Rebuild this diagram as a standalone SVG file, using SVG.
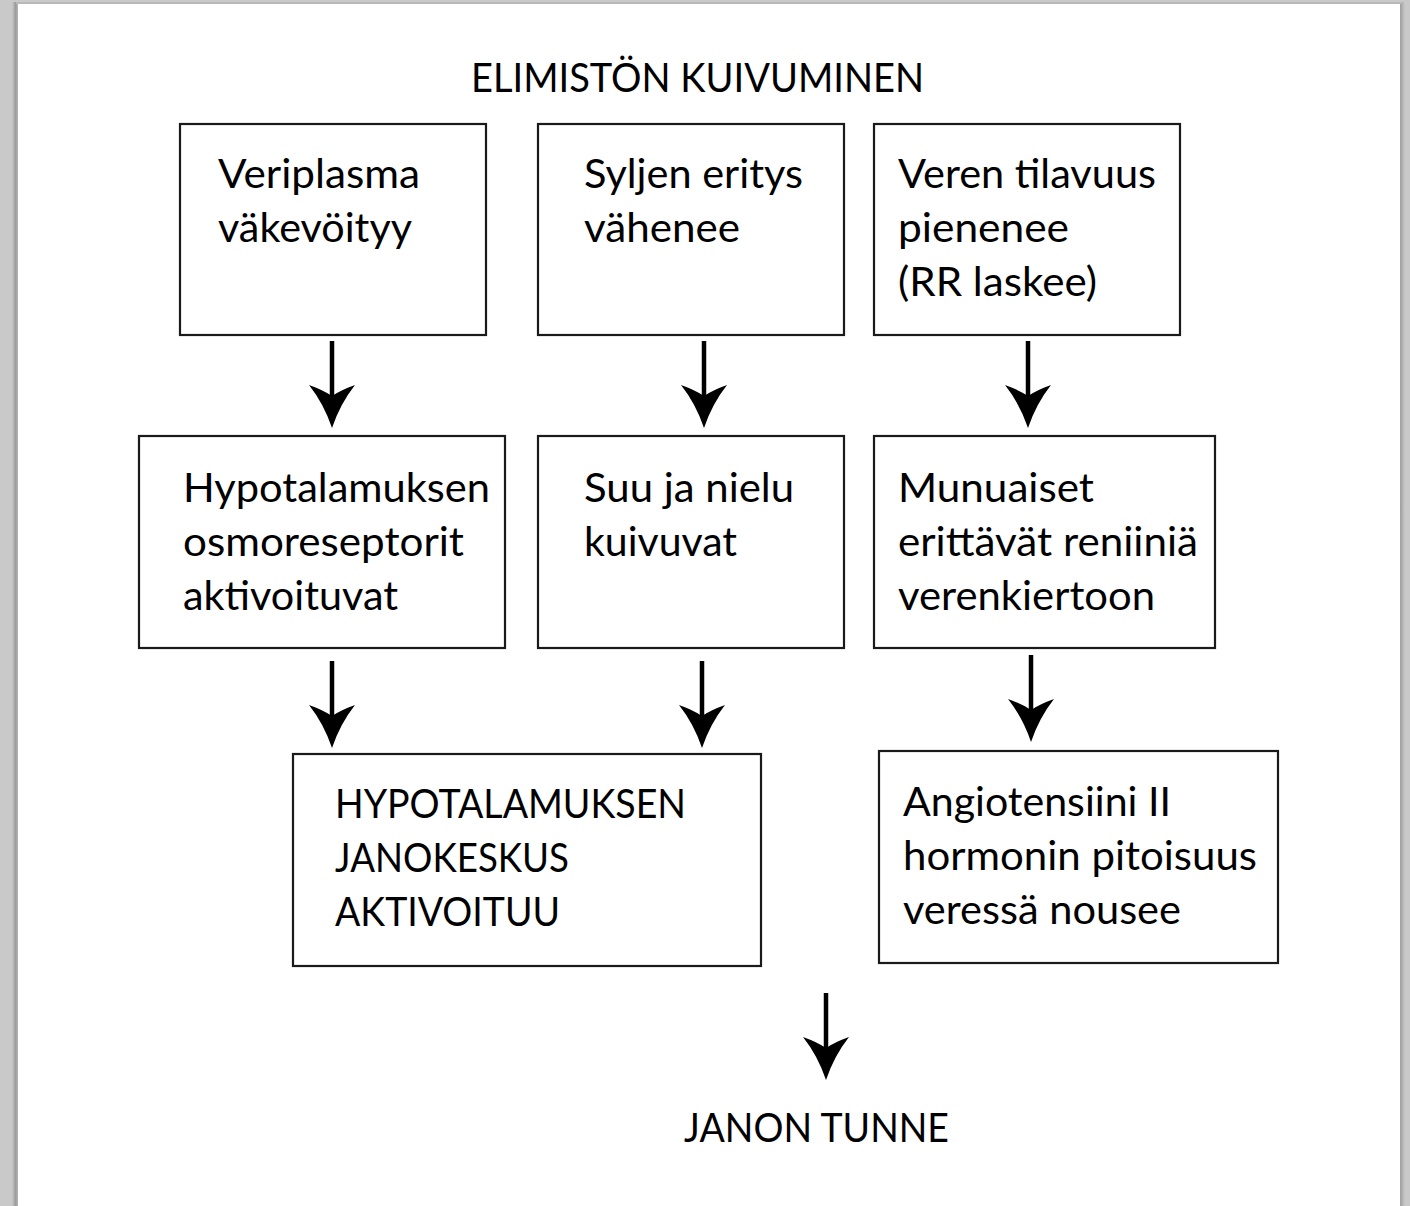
<svg xmlns="http://www.w3.org/2000/svg" xmlns:xlink="http://www.w3.org/1999/xlink" width="1410" height="1206" viewBox="0 0 1410 1206">
<style>
.box{fill:#fff;stroke:#1a1a1a;stroke-width:2.2}
.t{font-family:Lato,"Open Sans","Liberation Sans",sans-serif;font-size:40px;fill:#000}
.shaft{stroke:#000;stroke-width:4.5;fill:none}
.head{fill:#000}
</style>
<defs>
<linearGradient id="ls" x1="0" x2="1" y1="0" y2="0">
<stop offset="0" stop-color="#c8c9c8"/><stop offset="0.6" stop-color="#9a9b9a"/><stop offset="1" stop-color="#b5b6b5"/>
</linearGradient>
<linearGradient id="rs" x1="0" x2="1" y1="0" y2="0">
<stop offset="0" stop-color="#9c9d9c"/><stop offset="1" stop-color="#c8c9c8"/>
</linearGradient>
<g id="arrow">
<line class="shaft" x1="0" y1="0" x2="0" y2="60"/>
<path class="head" d="M0,87 Q-8,63 -23,44 Q-9,49 0,55 Q9,49 23,44 Q8,63 0,87 Z"/>
</g>
</defs>
<g id="page">
<rect x="0" y="0" width="1410" height="1206" fill="#c8c9c8"/>
<rect x="12" y="2" width="6" height="1204" fill="url(#ls)"/>
<rect x="1400" y="2" width="5" height="1204" fill="url(#rs)"/>
<rect x="16" y="2" width="1386" height="2" fill="#b8b9b8"/>
<rect x="18" y="4" width="1382" height="1202" fill="#fff"/>
</g>
<text id="title" class="t" x="471" y="92" textLength="453" lengthAdjust="spacingAndGlyphs">ELIMISTÖN KUIVUMINEN</text>
<g id="n1">
<rect class="box" x="180" y="124" width="306" height="211"/>
<text class="t" x="218" y="188" textLength="202" lengthAdjust="spacingAndGlyphs">Veriplasma</text>
<text class="t" x="218" y="242" textLength="194" lengthAdjust="spacingAndGlyphs">väkevöityy</text>
</g>
<g id="n2">
<rect class="box" x="538" y="124" width="306" height="211"/>
<text class="t" x="584" y="188" textLength="219" lengthAdjust="spacingAndGlyphs">Syljen eritys</text>
<text class="t" x="584" y="242" textLength="156" lengthAdjust="spacingAndGlyphs">vähenee</text>
</g>
<g id="n3">
<rect class="box" x="874" y="124" width="306" height="211"/>
<text class="t" x="898" y="188" textLength="258" lengthAdjust="spacingAndGlyphs">Veren tilavuus</text>
<text class="t" x="898" y="242" textLength="171" lengthAdjust="spacingAndGlyphs">pienenee</text>
<text class="t" x="898" y="296" textLength="199" lengthAdjust="spacingAndGlyphs">(RR laskee)</text>
</g>
<g id="n4">
<rect class="box" x="139" y="436" width="366" height="212"/>
<text class="t" x="183" y="502" textLength="307" lengthAdjust="spacingAndGlyphs">Hypotalamuksen</text>
<text class="t" x="183" y="556" textLength="281" lengthAdjust="spacingAndGlyphs">osmoreseptorit</text>
<text class="t" x="183" y="610" textLength="215" lengthAdjust="spacingAndGlyphs">aktivoituvat</text>
</g>
<g id="n5">
<rect class="box" x="538" y="436" width="306" height="212"/>
<text class="t" x="584" y="502" textLength="210" lengthAdjust="spacingAndGlyphs">Suu ja nielu</text>
<text class="t" x="584" y="556" textLength="153" lengthAdjust="spacingAndGlyphs">kuivuvat</text>
</g>
<g id="n6">
<rect class="box" x="874" y="436" width="341" height="212"/>
<text class="t" x="898" y="502" textLength="196" lengthAdjust="spacingAndGlyphs">Munuaiset</text>
<text class="t" x="898" y="556" textLength="300" lengthAdjust="spacingAndGlyphs">erittävät reniiniä</text>
<text class="t" x="898" y="610" textLength="257" lengthAdjust="spacingAndGlyphs">verenkiertoon</text>
</g>
<g id="n7">
<rect class="box" x="293" y="754" width="468" height="212"/>
<text class="t" x="335" y="818" textLength="351" lengthAdjust="spacingAndGlyphs">HYPOTALAMUKSEN</text>
<text class="t" x="335" y="872" textLength="234" lengthAdjust="spacingAndGlyphs">JANOKESKUS</text>
<text class="t" x="335" y="926" textLength="225" lengthAdjust="spacingAndGlyphs">AKTIVOITUU</text>
</g>
<g id="n8">
<rect class="box" x="879" y="751" width="399" height="212"/>
<text class="t" x="903" y="816" textLength="268" lengthAdjust="spacingAndGlyphs">Angiotensiini II</text>
<text class="t" x="903" y="870" textLength="354" lengthAdjust="spacingAndGlyphs">hormonin pitoisuus</text>
<text class="t" x="903" y="924" textLength="278" lengthAdjust="spacingAndGlyphs">veressä nousee</text>
</g>
<text id="n9" class="t" x="684" y="1142" textLength="265" lengthAdjust="spacingAndGlyphs">JANON TUNNE</text>
<g id="connectors">
<use xlink:href="#arrow" x="332" y="341"/>
<use xlink:href="#arrow" x="704" y="341"/>
<use xlink:href="#arrow" x="1028" y="341"/>
<use xlink:href="#arrow" x="332" y="661"/>
<use xlink:href="#arrow" x="702" y="661"/>
<use xlink:href="#arrow" x="1031" y="655"/>
<use xlink:href="#arrow" x="826" y="993"/>
</g>
</svg>
